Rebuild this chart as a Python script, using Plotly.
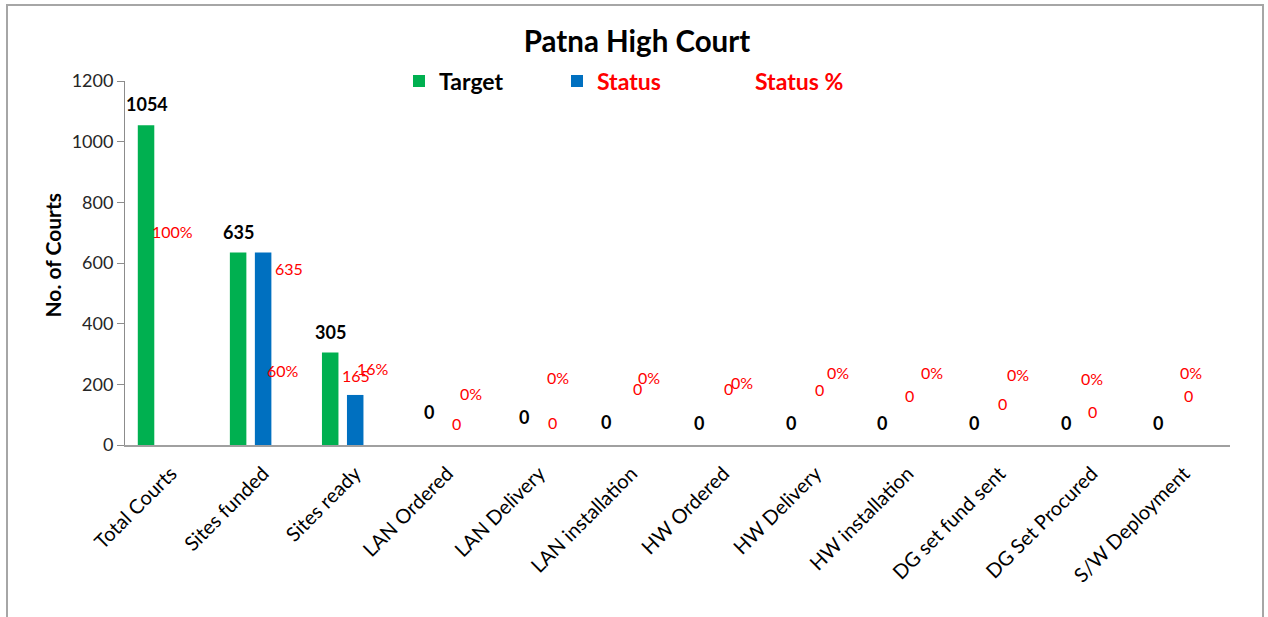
import plotly.graph_objects as go

# ---------------- data ----------------
categories = ["Total Courts", "Sites funded", "Sites ready", "LAN Ordered", "LAN Delivery",
              "LAN installation", "HW Ordered", "HW Delivery", "HW installation",
              "DG set fund sent", "DG Set Procured", "S/W Deployment"]
target = [1054, 635, 305, 0, 0, 0, 0, 0, 0, 0, 0, 0]
status = [None, 635, 165, 0, 0, 0, 0, 0, 0, 0, 0, 0]
status_pct = [100, 60, 16, 0, 0, 0, 0, 0, 0, 0, 0, 0]
y_ticks = [0, 200, 400, 600, 800, 1000, 1200]

# ---------------- label placement (pixel offsets, as hand-placed in the original) ----------------
tgt_dx = [-24, -25, -25, -18, -15, -25, -25, -25, -26, -26, -26, -26]
tgt_dy = [21, 20, 20, 33, 28, 23, 22, 22, 22, 22, 22, 22]
st_dx = [0, 26, 1, 9, 13, 6, 5, 4, 2, 3, 1, 5]
st_dy = [0, -16, 19, 22, 23, 57, 57, 56, 50, 42, 34, 50]
pct_dx = [1, 20, 18, 24, 19, 18, 18, 22, 24, 18, 0, 7]
pct_dy = [214, 75, 77, 52, 68, 68, 63, 73, 73, 71, 67, 73]

FONT = "Lato"
RED = "#ff0000"
x = list(range(len(categories)))

fig = go.Figure()
fig.add_trace(go.Bar(x=x, y=target, name="<b>Target</b>",
                     marker=dict(color="#00b050", line=dict(width=0)), hoverinfo="skip"))
fig.add_trace(go.Bar(x=x, y=status, name='<b><span style="color:#ff0000">Status</span></b>',
                     marker=dict(color="#0070c0", line=dict(width=0)), hoverinfo="skip"))
fig.add_trace(go.Bar(x=x, y=[p / 100 for p in status_pct],
                     name='<b><span style="color:#ff0000">Status %</span></b>',
                     marker=dict(color="rgba(0,0,0,0)", line=dict(width=0, color="rgba(0,0,0,0)")),
                     hoverinfo="skip"))

ann = []
for i, v in enumerate(target):
    ann.append(dict(x=i, y=v, xref="x", yref="y", text=f"<b>{v}</b>", showarrow=False,
                    xshift=tgt_dx[i], yshift=tgt_dy[i],
                    font=dict(family=FONT, size=18, color="#000000")))
for i, v in enumerate(status):
    if v is None:
        continue
    ann.append(dict(x=i, y=v, xref="x", yref="y", text=f"{v}", showarrow=False,
                    xshift=st_dx[i], yshift=st_dy[i],
                    font=dict(family=FONT, size=16, color=RED)))
for i, p in enumerate(status_pct):
    ann.append(dict(x=i, y=0, xref="x", yref="y", text=f"{p}%", showarrow=False,
                    xshift=pct_dx[i], yshift=pct_dy[i],
                    font=dict(family=FONT, size=16, color=RED)))

# y-axis title
ann.append(dict(x=(37 - 125) / 1105, y=(445 - 255) / 364, xref="paper", yref="paper",
                text="<b>No. of Courts</b>", textangle=-90, showarrow=False,
                font=dict(family=FONT, size=21, color="#000000")))

fig.update_layout(
    width=1268, height=617,
    margin=dict(l=125, r=38, t=81, b=172),
    paper_bgcolor="white", plot_bgcolor="white",
    barmode="group", bargap=0.1855, bargroupgap=0.34,
    title=dict(text="<b>Patna High Court</b>", x=637 / 1268, xref="container", y=1 - 42 / 617,
               yref="container", xanchor="center", yanchor="middle",
               font=dict(family=FONT, size=29.5, color="#000000")),
    font=dict(family=FONT, color="#000000"),
    showlegend=True,
    legend=dict(orientation="h", x=(399 - 125) / 1105, xanchor="left", y=1.0, yanchor="middle",
                entrywidth=113, entrywidthmode="pixels", traceorder="normal",
                font=dict(family=FONT, size=23, color="#000000"),
                bgcolor="rgba(0,0,0,0)"),
    annotations=ann,
    shapes=[dict(type="rect", xref="paper", yref="paper",
                 x0=(7 - 125) / 1105, x1=(1263 - 125) / 1105,
                 y0=(445 - 640) / 364, y1=(445 - 5) / 364,
                 line=dict(color="#a6a6a6", width=2), layer="below")],
)
fig.update_xaxes(range=[-0.5, len(categories) - 0.5], tickmode="array", tickvals=x,
                 ticktext=categories, tickangle=-45, showgrid=False, zeroline=False,
                 showline=True, linecolor="#a0a0a0", linewidth=2, ticks="",
                 ticklabelstandoff=7,
                 tickfont=dict(family=FONT, size=20, color="#000000"), fixedrange=True)
fig.update_yaxes(range=[0, 1200], tickmode="array", tickvals=y_ticks, showgrid=False,
                 zeroline=False, showline=True, linecolor="#8c8c8c", linewidth=1,
                 ticks="outside", ticklen=7, tickcolor="#8c8c8c",
                 tickfont=dict(family=FONT, size=18, color="#262626"), fixedrange=True)

fig.write_html(
    "out.html",
    config={"displayModeBar": False},
    post_script="document.body.style.margin='0';document.body.style.overflow='hidden';",
)
